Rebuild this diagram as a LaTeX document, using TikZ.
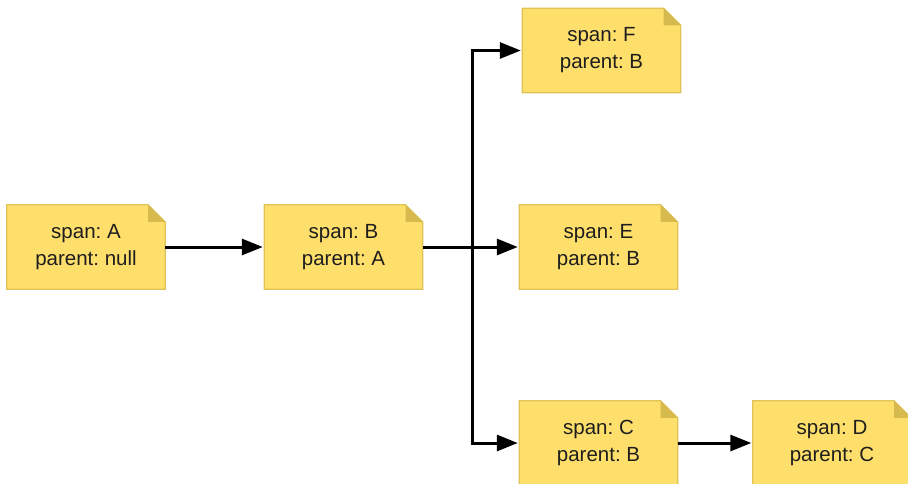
\documentclass[tikz,border=0pt]{standalone}
\usepackage{fontspec}
\setmainfont{Liberation Sans}
\frenchspacing
\usetikzlibrary{arrows.meta,backgrounds}
\definecolor{notefill}{RGB}{255,223,107}
\definecolor{noteline}{RGB}{222,196,88}
\definecolor{notefold}{RGB}{214,186,78}
\definecolor{notetext}{RGB}{30,30,30}
\tikzset{
  note/.style={minimum width=158pt,minimum height=84pt,inner sep=0pt,align=center,
    text=notetext,font=\fontsize{20.5pt}{27pt}\selectfont},
  conn/.style={line width=3pt,-{Triangle[length=21pt,width=16pt]},shorten >=1.5pt},
}
\begin{document}
\begin{tikzpicture}[x=1pt,y=-1pt]
\useasboundingbox (0,0) rectangle (908,483);
\clip (0,0) rectangle (908,483);
\node[note] (A) at (86,247) {span: A\\parent: null};
\node[note] (B) at (343.5,247) {span: B\\parent: A};
\node[note] (F) at (601.5,50.5) {span: F\\parent: B};
\node[note] (E) at (598.5,247) {span: E\\parent: B};
\node[note] (C) at (598.5,443) {span: C\\parent: B};
\node[note] (D) at (832,443) {span: D\\parent: C};
\begin{scope}[on background layer]
\foreach \n in {A,B,F,E,C,D}{
  \filldraw[fill=notefill,draw=noteline,line width=1.2pt]
    (\n.south west) -- (\n.north west) -- ([xshift=-17pt]\n.north east)
    -- ([yshift=-17pt]\n.north east) -- (\n.south east) -- cycle;
  \fill[notefold] ([xshift=-17pt]\n.north east) -- ([yshift=-17pt]\n.north east)
    -- ([xshift=-17pt,yshift=-17pt]\n.north east) -- cycle;
}
\end{scope}
\coordinate (j) at (472,247);
\draw[conn] (A) -- (B);
\draw[conn] (B) -- (E);
\draw[conn] (j) |- (F.west);
\draw[conn] (j) |- (C.west);
\draw[conn] (C) -- (D);
\end{tikzpicture}
\end{document}
